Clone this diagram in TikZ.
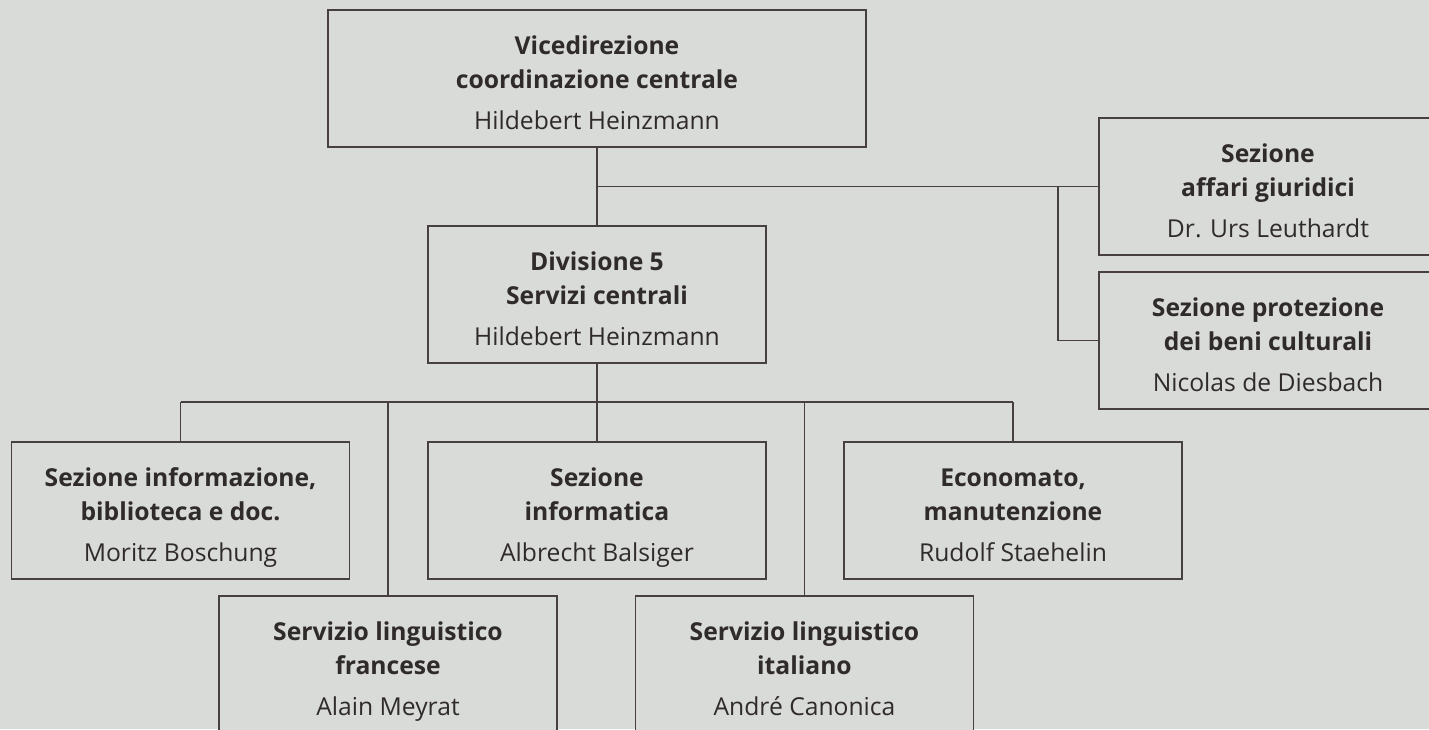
\documentclass[tikz,border=0pt]{standalone}
\usepackage{fontspec}
\setmainfont{Open Sans}
\usepackage{xcolor}
\usepackage{tikz}

\definecolor{paper}{RGB}{217,219,216}
\definecolor{ink}{RGB}{48,43,43}
\definecolor{rule}{RGB}{72,64,64}

\newcommand{\orgtop}{\rule{0pt}{28pt}}
\newcommand{\orgbot}{\rule[-7.65pt]{0pt}{0pt}}

\tikzset{
  orgbox/.style={draw=rule, line width=1.2pt, fill=paper, text=ink, align=center, inner sep=0pt,
    minimum width=253.5pt, minimum height=102.75pt, font=\fontsize{18.5}{25.5}\selectfont},
  link/.style={draw=rule, line width=1.2pt}
}

\begin{document}
\begin{tikzpicture}[x=0.75pt,y=0.75pt,yscale=-1,xscale=1]

\useasboundingbox (0,0) rectangle (1429,729);
\clip (0,0) rectangle (1429,729);
\fill[paper] (0,0) rectangle (1429,729);


\node[orgbox, minimum width=403.5pt] (vice) at (597,78.5) {\orgtop\textbf{Vicedirezione}\\\textbf{coordinazione centrale}\\[5.25pt]Hildebert Heinzmann\orgbot};

\node[orgbox] (div) at (597,294.5) {\orgtop\textbf{Divisione 5}\\\textbf{Servizi centrali}\\[5.25pt]Hildebert Heinzmann\orgbot};

\node[orgbox] (affari) at (1268,186.5) {\orgtop\textbf{Sezione}\\\textbf{affari giuridici}\\[5.25pt]Dr. Urs Leuthardt\orgbot};

\node[orgbox] (beni) at (1268,340.5) {\orgtop\textbf{Sezione protezione}\\\textbf{dei beni culturali}\\[5.25pt]Nicolas de Diesbach\orgbot};


\node[orgbox] (info) at (180.5,510.5) {\orgtop\textbf{Sezione informazione,}\\\textbf{biblioteca e doc.}\\[5.25pt]Moritz Boschung\orgbot};

\node[orgbox] (inform) at (597,510.5) {\orgtop\textbf{Sezione}\\\textbf{informatica}\\[5.25pt]Albrecht Balsiger\orgbot};

\node[orgbox] (econ) at (1013,510.5) {\orgtop\textbf{Economato,}\\\textbf{manutenzione}\\[5.25pt]Rudolf Staehelin\orgbot};

\node[orgbox] (franc) at (388,664.5) {\orgtop\textbf{Servizio linguistico}\\\textbf{francese}\\[5.25pt]Alain Meyrat\orgbot};

\node[orgbox] (ital) at (804.5,664.5) {\orgtop\textbf{Servizio linguistico}\\\textbf{italiano}\\[5.25pt]André Canonica\orgbot};


\coordinate (jur) at (597,186.5);
\coordinate (kgs) at (1058,186.5);
\coordinate (bus) at (597,402);
\coordinate (busl) at (180.5,402);
\coordinate (busr) at (1013,402);

\draw[link] (vice.south) -- (div.north);
\draw[link] (jur) -- (affari.west);
\draw[link] (kgs) |- (beni.west);

\draw[link] (div.south) -- (bus);
\draw[link] (busl) -- (busr);
\foreach \n in {info,inform,econ,franc,ital}
  \draw[link] (\n.north) -- (\n.north |- bus);

\end{tikzpicture}
\end{document}
